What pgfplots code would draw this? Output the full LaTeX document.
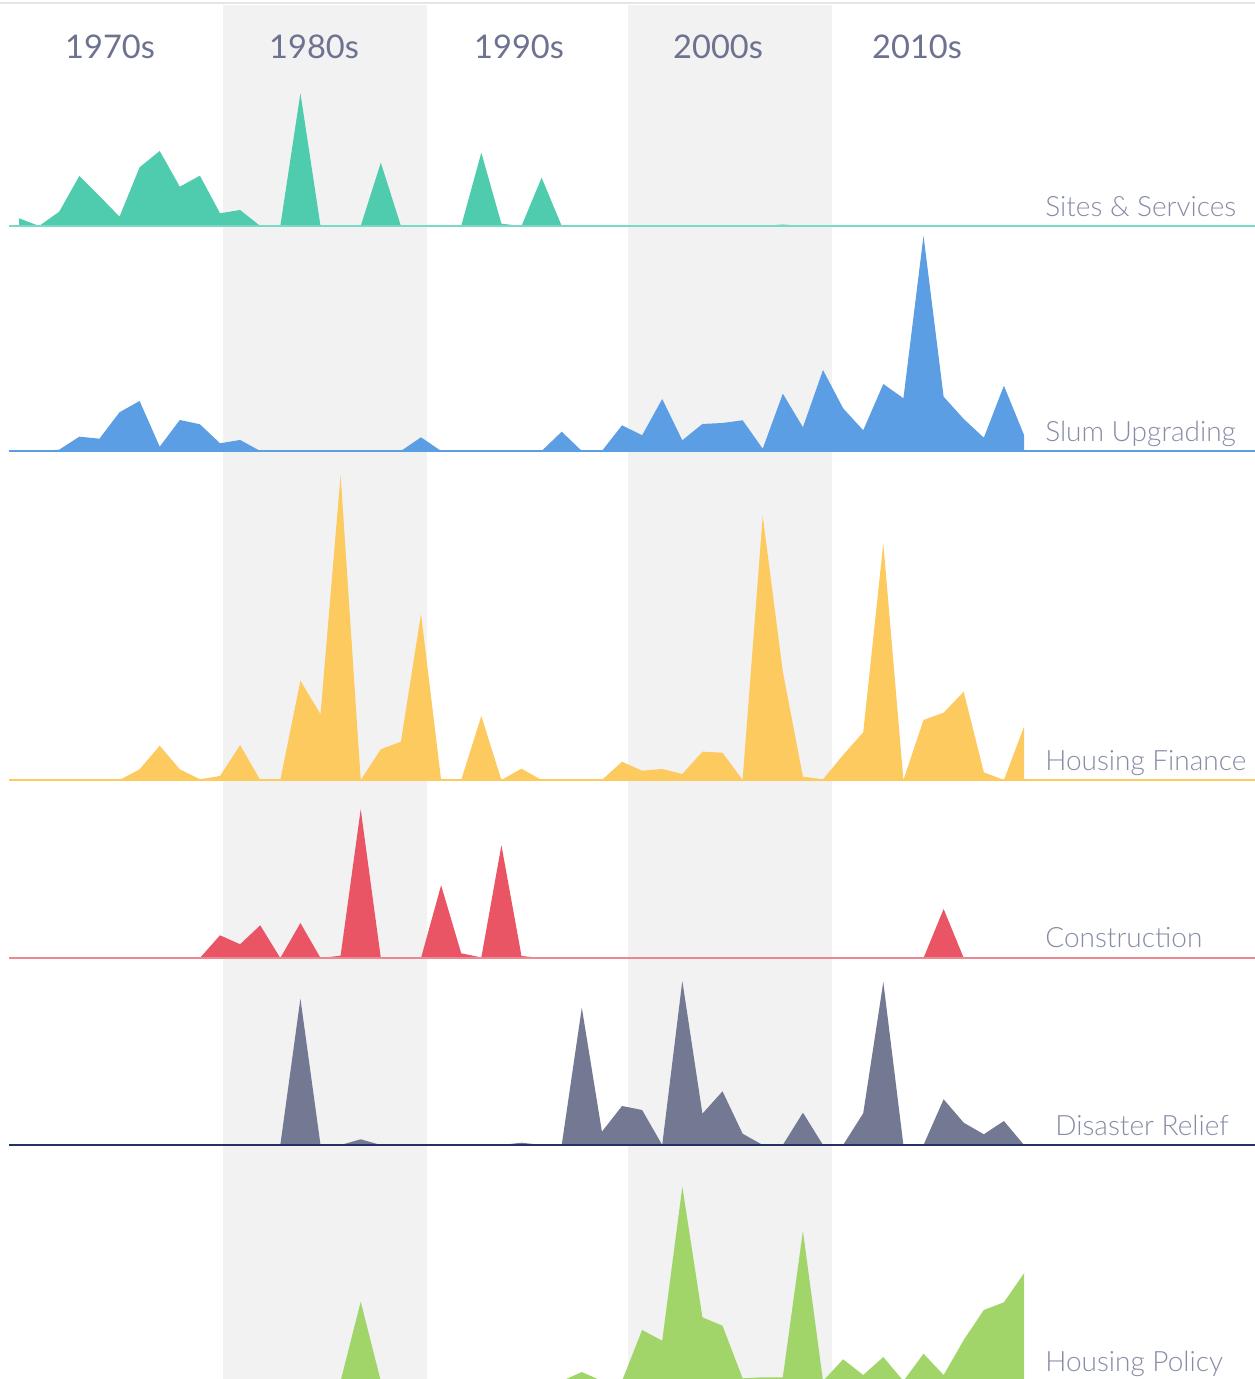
\documentclass[border=0pt]{standalone}
\usepackage{fontspec}
\setmainfont{Lato}
\newfontfamily\lightfont{Lato Light}
\usepackage{pgfplots}
\usepackage{pgfplotstable}
\pgfplotsset{compat=1.18}
\definecolor{cSites}{HTML}{4FCBAD}
\definecolor{cSitesL}{HTML}{7AD9C2}
\definecolor{cSlum}{HTML}{5C9EE3}
\definecolor{cFin}{HTML}{FDCA60}
\definecolor{cCon}{HTML}{EA5566}
\definecolor{cConL}{HTML}{EE8790}
\definecolor{cDis}{HTML}{737992}
\definecolor{cDisL}{HTML}{233262}
\definecolor{cPol}{HTML}{A1D56A}
\definecolor{band}{HTML}{F2F2F2}
\definecolor{decade}{HTML}{6E7291}
\definecolor{lab}{HTML}{868BA6}
\pgfplotstableread{
year sites slum finance constr disaster policy
1970 0 0 0 0 0 0
1970 7.7 0 0 0 0 0
1971 0 0 0 0 0 0
1972 14.3 1.3 0 0 0 0
1973 50 14.3 0 0 0 0
1974 30 12.3 0 0 0 0
1975 9.3 38.7 0 0 0 0
1976 58.7 50 10.7 0 0 0
1977 75 4.3 34.3 0 0 0
1978 39.3 31 10.7 0 0 0
1979 50.3 26.7 0.7 0 0 0
1980 12.7 7.7 4 22.7 0 0
1981 16 11 35 13.7 0 0
1982 0 0 0 32.7 0 0
1983 0 0 0 0 0 0
1984 132.7 0 99.3 35 146.3 0
1985 0 0 65.7 0 0 0
1986 0 0 305 2.3 0 0
1987 0 0 0 148.7 5.7 79.3
1988 63.3 0 30.7 0 0 0
1989 0 0 38.3 0 0 0
1990 0 13.7 166 0 0 0
1991 0 0 0 72.7 0 0
1992 0 0 0 4.7 0 0
1993 73.3 0 64 0.5 0 0
1994 2.3 0 0 112.7 0 0
1995 0 0 11.3 2 2.3 0
1996 48.3 0 0 0 0 0
1997 0 19.3 0 0 0 0
1998 0 0 0 0 137.3 9
1999 0 0 0 0 13.3 0
2000 0 25.7 18.3 0 39 0
2001 0 15.7 9.3 0 35 51
2002 0 52 11 0 0 40.3
2003 0 10.7 6 0 164 194.3
2004 0 27 28.3 0 31.3 63.7
2005 0 28 27.3 0 53.7 55.3
2006 0 30.7 0 0 11.3 2.7
2007 0 2.3 264 0 0 3.7
2008 1.5 57.3 108.3 0 0 3.7
2009 0 23.7 3.3 0 32.3 150
2010 0 81 0.7 0 0 0
2011 0 42.7 25 0 0 21.7
2012 0 20.7 47.7 0 31.7 6
2013 0 67 236.7 0 163 24
2014 0 52.7 0 0 0 0
2015 0 215.3 60 0 0 27.3
2016 0 54.3 67.3 49 45.7 6
2017 0 32 88.3 0 22.3 41
2018 0 13.3 7.7 0 10.7 71
2019 0 65.3 0 0 24 78.7
2020 0 16 53.3 0 0 107.7
2020 0 0 0 0 0 0
}\data
\begin{document}
\begin{tikzpicture}
\begin{axis}[
  name=ax,
  width=627.5pt, height=689.5pt, scale only axis,
  xmin=1969.054, xmax=2031.492, ymin=0, ymax=1379,
  hide axis, clip=true,
]
% decade bands
\fill[band] (axis cs:1980.15,0) rectangle (axis cs:1990.30,1374);
\fill[band] (axis cs:2000.30,0) rectangle (axis cs:2010.45,1374);
\draw[color=black!10, line width=1pt] (axis cs:1969.054,1376) -- (axis cs:2031.492,1376);
% decade labels
\begin{scope}[every node/.style={anchor=base, text=decade, inner sep=0pt, font=\fontsize{16.3}{16.3}\selectfont}]
\node at (axis cs:1974.53,1320) {1970s};
\node at (axis cs:1984.68,1320) {1980s};
\node at (axis cs:1994.88,1320) {1990s};
\node at (axis cs:2004.78,1320) {2000s};
\node at (axis cs:2014.68,1320) {2010s};
\end{scope}
% series
\addplot[fill=cSites, draw=none] table[x=year, y expr=\thisrow{sites}+1153] {\data};
\draw[cSitesL, line width=1pt] (axis cs:1969.5,1153) -- (axis cs:2031.6,1153);
\addplot[fill=cSlum, draw=none] table[x=year, y expr=\thisrow{slum}+928] {\data};
\draw[cSlum, line width=0.8pt] (axis cs:1969.5,928) -- (axis cs:2031.6,928);
\addplot[fill=cFin, draw=none] table[x=year, y expr=\thisrow{finance}+599] {\data};
\draw[cFin, line width=1pt] (axis cs:1969.5,599) -- (axis cs:2031.6,599);
\addplot[fill=cCon, draw=none] table[x=year, y expr=\thisrow{constr}+421] {\data};
\draw[cConL, line width=1pt] (axis cs:1969.5,421) -- (axis cs:2031.6,421);
\addplot[fill=cDis, draw=none] table[x=year, y expr=\thisrow{disaster}+234] {\data};
\draw[cDisL, line width=0.8pt] (axis cs:1969.5,234) -- (axis cs:2031.6,234);
\addplot[fill=cPol, draw=none] table[x=year, y expr=\thisrow{policy}-2] {\data};
% series labels
\begin{scope}[every node/.style={anchor=base west, text=lab, inner sep=0pt, font=\lightfont\fontsize{14}{14}\selectfont}]
\node at (axis cs:2021.04,1162) {Sites \& Services};
\node at (axis cs:2021.04,937) {Slum Upgrading};
\node at (axis cs:2021.04,608) {Housing Finance};
\node at (axis cs:2021.04,431) {Construction};
\node at (axis cs:2021.54,243) {Disaster Relief};
\node at (axis cs:2021.04,8) {Housing Policy};
\end{scope}
\end{axis}
\pgfresetboundingbox
\path (ax.south west) rectangle (ax.north east);
\end{tikzpicture}
\end{document}
